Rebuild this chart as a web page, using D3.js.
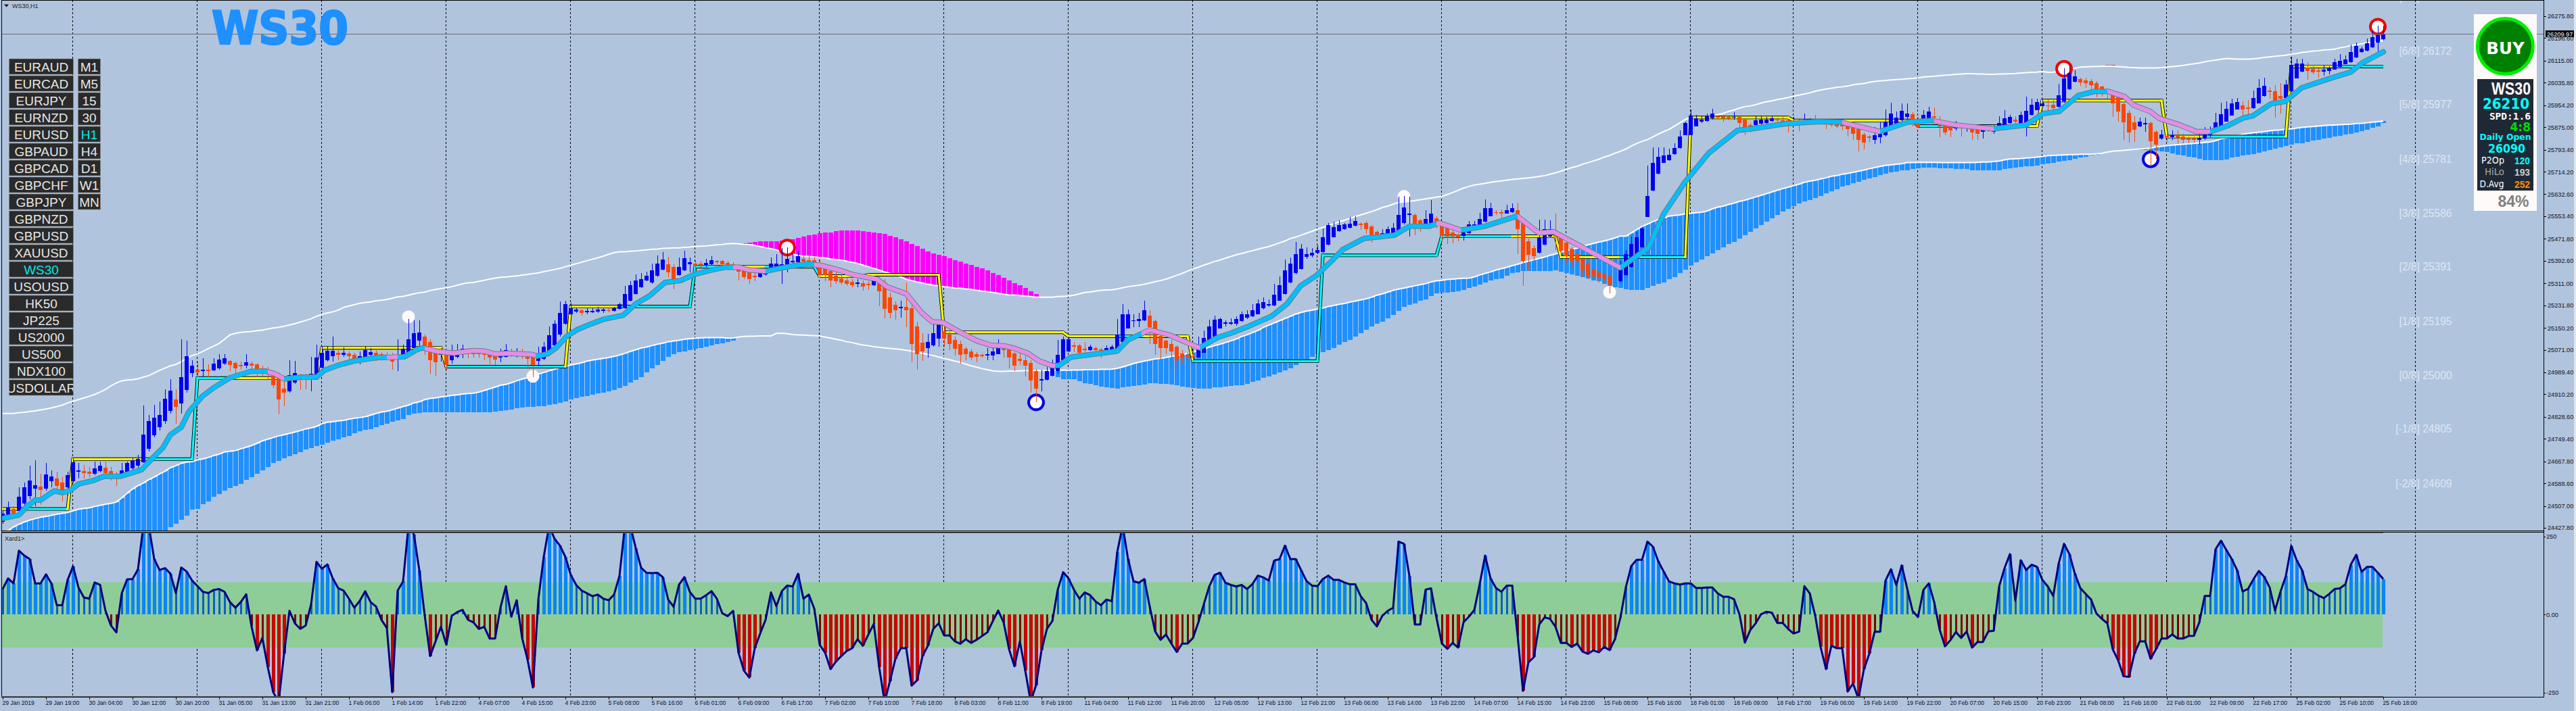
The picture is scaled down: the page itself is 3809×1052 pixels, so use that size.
<!DOCTYPE html>
<html><head><meta charset="utf-8"><title>WS30 H1</title>
<script src="https://cdn.jsdelivr.net/npm/d3@7/dist/d3.min.js"></script>
<style>html,body{margin:0;padding:0;background:#b0c4de;overflow:hidden}svg{display:block}</style>
</head><body><svg id="c" width="3809" height="1052"></svg>
<script>
const opens=[24449,24470,24495,24490,24515,24543,24570,24577,24570,24596,
24605,24592,24574,24596,24632,24633,24630,24623,24633,24645,
24633,24621,24617,24623,24642,24652,24665,24713,24763,24791,
24813,24851,24891,24876,24925,24987,25000,24994,24998,24997,
25005,25022,25030,25023,25017,25013,25020,25018,25003,24998,
24978,24969,24931,24922,24953,24972,24970,24968,24980,25007,
25033,25049,25059,25053,25058,25053,25040,25044,25053,25061,
25055,25053,25050,25046,25050,25059,25078,25105,25119,25100,
25059,25053,25053,25034,25046,25055,25065,25062,25058,25056,
25054,25050,25043,25046,25062,25056,25060,25047,25046,25030,
25038,25054,25088,25125,25164,25198,25208,25214,25208,25208,
25208,25212,25215,25212,25219,25222,25247,25273,25298,25322,
25314,25338,25361,25381,25369,25341,25357,25379,25383,25382,
25377,25381,25391,25391,25385,25379,25369,25359,25351,25339,
25334,25343,25357,25360,25370,25373,25386,25387,25399,25395,
25395,25375,25365,25355,25338,25329,25322,25317,25310,25312,
25308,25305,25318,25300,25261,25233,25222,25225,25220,25156,
25096,25078,25088,25111,25138,25126,25107,25092,25074,25066,
25056,25052,25050,25050,25056,25074,25073,25058,25037,25034,
25024,24993,24961,24962,24977,24995,25032,25064,25088,25086,
25074,25071,25078,25073,25069,25071,25074,25100,25149,25174,
25174,25178,25195,25176,25122,25103,25092,25081,25058,25052,
25048,25044,25061,25099,25119,25149,25165,25166,25166,25174,
25186,25193,25200,25220,25230,25231,25249,25273,25315,25347,
25363,25406,25412,25422,25424,25450,25478,25499,25507,25512,
25518,25526,25528,25517,25497,25485,25487,25493,25499,25529,
25558,25558,25538,25524,25529,25547,25525,25517,25495,25487,
25482,25491,25509,25512,25533,25554,25568,25568,25564,25568,
25576,25533,25463,25438,25422,25450,25481,25501,25477,25458,
25436,25417,25399,25379,25360,25351,25343,25336,25320,25318,
25341,25371,25412,25442,25551,25647,25707,25747,25757,25777,
25799,25846,25846,25879,25894,25898,25906,25915,25914,25911,
25910,25913,25903,25883,25883,25887,25889,25898,25903,25901,
25899,25893,25899,25895,25897,25898,25894,25889,25887,25887,
25885,25881,25877,25867,25849,25841,25830,25838,25846,25875,
25879,25899,25911,25921,25899,25895,25895,25915,25902,25891,
25879,25871,25879,25871,25872,25867,25859,25871,25859,25875,
25879,25891,25903,25879,25885,25920,25937,25950,25954,25956,
25948,25968,26011,26039,26048,26044,26041,26033,26022,26013,
25993,25983,25959,25927,25893,25878,25886,25890,25859,25833,
25843,25838,25845,25842,25834,25833,25830,25833,25845,25863,
25875,25895,25918,25940,25954,25946,25944,25962,25988,26007,
26005,25988,25980,26005,26051,26076,26090,26085,26080,26076,
26078,26084,26092,26103,26110,26127,26146,26152,26163,26180,
26193];
const closes=[24480,24502,24480,24540,24574,24599,24582,24564,24621,24614,
24580,24561,24617,24665,24635,24626,24622,24642,24652,24625,
24617,24617,24636,24661,24673,24677,24764,24814,24826,24835,
24893,24924,24864,24972,25049,25013,24990,25000,24994,25022,
25035,25040,25015,25003,25012,25025,25013,24998,24995,24988,
24944,24891,24916,24980,24987,24968,24966,24984,25043,25059,
25068,25068,25053,25060,25048,25037,25048,25071,25063,25050,
25048,25045,25028,25053,25075,25109,25130,25134,25084,25034,
25025,25065,25015,25055,25071,25075,25059,25054,25054,25052,
25043,25035,25050,25070,25054,25062,25054,25038,25016,25040,
25082,25123,25164,25203,25235,25222,25216,25203,25211,25211,
25217,25216,25212,25222,25237,25273,25303,25322,25326,25338,
25359,25383,25398,25351,25321,25371,25403,25386,25373,25377,
25385,25395,25388,25379,25375,25375,25354,25334,25325,25334,
25351,25357,25382,25382,25381,25399,25391,25409,25390,25390,
25387,25341,25341,25322,25320,25314,25308,25305,25314,25300,
25305,25322,25283,25219,25203,25213,25225,25213,25093,25054,
25066,25100,25131,25162,25111,25091,25074,25052,25056,25043,
25045,25050,25054,25066,25078,25072,25042,25013,25030,25013,
24959,24930,24964,24995,25009,25052,25110,25109,25082,25061,
25072,25081,25069,25066,25076,25081,25127,25200,25200,25178,
25183,25213,25154,25093,25078,25078,25064,25034,25042,25046,
25042,25073,25113,25156,25180,25182,25169,25171,25183,25198,
25200,25213,25239,25244,25237,25269,25303,25359,25383,25417,
25436,25416,25422,25432,25477,25521,25515,25521,25523,25527,
25536,25524,25508,25482,25482,25493,25507,25512,25558,25586,
25562,25524,25524,25544,25562,25529,25482,25481,25479,25477,
25495,25524,25524,25544,25582,25582,25565,25562,25576,25582,
25507,25391,25414,25409,25477,25507,25507,25481,25428,25410,
25393,25393,25359,25338,25336,25332,25328,25306,25317,25363,
25416,25454,25477,25509,25627,25745,25769,25773,25775,25799,
25842,25889,25917,25907,25903,25915,25925,25910,25907,25909,
25913,25889,25865,25879,25899,25903,25903,25906,25899,25895,
25895,25897,25894,25901,25902,25895,25890,25885,25884,25879,
25879,25867,25852,25828,25820,25838,25845,25851,25894,25924,
25910,25933,25924,25897,25875,25920,25932,25910,25879,25856,
25864,25879,25871,25875,25857,25850,25871,25867,25879,25889,
25907,25913,25894,25920,25933,25956,25966,25960,25951,25944,
25990,26051,26071,26058,26037,26035,26027,26009,26007,26009,
25962,25932,25893,25856,25866,25895,25890,25825,25812,25849,
25840,25846,25837,25828,25829,25830,25837,25849,25853,25893,
25922,25942,25960,25966,25940,25942,25980,26017,26024,26004,
25968,25979,26029,26100,26105,26105,26078,26073,26076,26082,
26087,26110,26114,26120,26146,26168,26159,26178,26200,26208,
26210];
const highs=[24492,24524,24505,24574,24592,24652,24673,24624,24661,24636,
24630,24611,24630,24679,24661,24655,24648,24667,24667,24667,
24648,24630,24661,24667,24679,24692,24869,24835,24872,24885,
24928,24966,24928,25109,25105,25034,25028,25040,25018,25040,
25055,25055,25034,25028,25028,25055,25028,25022,25013,25009,
24997,24990,24972,25034,25030,24984,24984,25046,25090,25084,
25084,25119,25071,25080,25065,25059,25065,25084,25078,25071,
25063,25063,25059,25109,25090,25183,25177,25177,25127,25109,
25078,25078,25059,25090,25092,25090,25078,25070,25062,25062,
25062,25058,25074,25092,25074,25077,25074,25062,25054,25082,
25099,25156,25178,25245,25249,25241,25222,25217,25222,25221,
25227,25222,25222,25225,25241,25302,25318,25344,25347,25352,
25383,25412,25424,25406,25379,25404,25428,25404,25395,25391,
25399,25409,25395,25395,25391,25387,25379,25371,25363,25349,
25359,25367,25404,25417,25438,25442,25416,25428,25412,25408,
25406,25395,25383,25367,25352,25343,25330,25326,25326,25322,
25318,25333,25334,25326,25278,25245,25249,25314,25237,25172,
25131,25129,25164,25172,25156,25135,25119,25105,25082,25074,
25062,25058,25078,25078,25109,25078,25078,25062,25057,25050,
25034,25001,25000,25009,25035,25107,25119,25119,25100,25091,
25099,25089,25081,25078,25087,25089,25182,25237,25217,25198,
25204,25249,25213,25180,25123,25107,25107,25087,25070,25062,
25074,25119,25141,25180,25195,25188,25178,25185,25192,25210,
25213,25235,25253,25260,25253,25308,25336,25397,25405,25460,
25452,25440,25438,25448,25509,25529,25534,25538,25529,25550,
25554,25531,25536,25521,25503,25507,25517,25528,25623,25627,
25623,25562,25544,25574,25611,25552,25534,25525,25505,25493,
25505,25536,25536,25566,25615,25603,25574,25578,25594,25599,
25603,25542,25473,25448,25542,25542,25538,25562,25485,25464,
25444,25428,25404,25387,25367,25359,25349,25343,25326,25391,
25432,25481,25497,25513,25737,25802,25802,25802,25798,25818,
25863,25895,25940,25920,25915,25924,25942,25920,25920,25915,
25929,25915,25907,25891,25915,25918,25911,25915,25910,25911,
25903,25911,25903,25924,25907,25920,25899,25895,25895,25895,
25899,25885,25883,25872,25855,25846,25875,25895,25940,25964,
25932,25962,25960,25928,25911,25936,25948,25946,25915,25899,
25887,25897,25891,25883,25879,25879,25879,25879,25883,25915,
25936,25920,25915,25932,25985,25977,25978,25976,25975,25972,
26032,26089,26102,26080,26054,26054,26048,26041,26024,26015,
26001,25989,25964,25936,25915,25910,25910,25895,25863,25865,
25851,25863,25863,25851,25842,25841,25851,25875,25877,25926,
25964,25968,25978,25981,25968,25974,26007,26048,26054,26019,
26027,26033,26046,26129,26121,26121,26111,26094,26089,26097,
26094,26123,26139,26135,26173,26181,26165,26196,26224,26241,
26241];
const lows=[24443,24468,24474,24487,24505,24530,24505,24511,24561,24574,
24549,24524,24543,24592,24605,24605,24611,24617,24627,24611,
24599,24580,24607,24617,24636,24642,24661,24704,24754,24779,
24804,24841,24804,24841,24916,24972,24972,24972,24972,24993,
25000,25015,24993,24984,25000,25003,24990,24972,24978,24966,
24934,24839,24866,24916,24947,24926,24928,24920,24972,25003,
25028,25028,25034,25045,25034,25022,25018,25040,25046,25030,
25038,25034,25000,24993,25040,25046,25065,25084,25053,24984,
24978,25028,25000,25022,25040,25040,25040,25043,25042,25034,
25019,25017,25026,25042,25046,25042,25038,25001,24973,25011,
25034,25050,25082,25119,25160,25196,25204,25195,25200,25203,
25203,25203,25206,25208,25217,25219,25245,25271,25294,25320,
25310,25334,25357,25334,25290,25338,25355,25351,25351,25367,
25371,25377,25379,25367,25363,25363,25322,25326,25308,25318,
25330,25338,25351,25359,25310,25351,25383,25383,25363,25375,
25375,25330,25318,25298,25310,25306,25302,25296,25298,25284,
25286,25302,25229,25184,25184,25180,25188,25152,25026,24999,
25030,25043,25082,25082,25082,25070,25050,25021,25034,25034,
25026,25042,25034,25034,25054,25042,25005,24995,25017,24974,
24917,24881,24920,24959,24974,24985,25030,25062,25062,25054,
25058,25068,25058,25040,25065,25066,25073,25099,25148,25152,
25152,25176,25091,25052,25035,25056,25026,25001,25024,25030,
25029,25042,25060,25095,25117,25148,25156,25160,25157,25172,
25183,25190,25198,25217,25225,25229,25247,25271,25312,25344,
25360,25399,25404,25416,25422,25448,25477,25497,25505,25509,
25516,25505,25489,25458,25473,25482,25485,25489,25497,25525,
25481,25485,25497,25521,25525,25509,25460,25452,25455,25464,
25466,25489,25505,25509,25531,25552,25558,25546,25562,25566,
25416,25302,25355,25395,25420,25448,25478,25432,25408,25383,
25367,25375,25334,25326,25326,25314,25314,25276,25310,25314,
25338,25367,25408,25440,25550,25643,25704,25745,25753,25775,
25798,25845,25845,25877,25891,25895,25903,25903,25895,25899,
25903,25863,25846,25856,25881,25883,25885,25895,25879,25879,
25855,25889,25861,25889,25895,25887,25887,25867,25875,25871,
25863,25842,25830,25788,25796,25822,25814,25816,25842,25871,
25875,25895,25897,25879,25871,25894,25891,25899,25838,25846,
25838,25863,25842,25859,25830,25830,25834,25859,25850,25872,
25875,25887,25875,25877,25842,25918,25936,25948,25936,25932,
25946,25964,26009,26037,26024,26017,26007,25983,25985,25977,
25913,25895,25830,25820,25822,25875,25859,25733,25761,25830,
25822,25828,25814,25818,25818,25820,25812,25830,25840,25861,
25873,25894,25916,25938,25913,25916,25942,25960,25986,25977,
25910,25924,25979,26002,26050,26074,26046,26066,26054,26062,
26066,26082,26089,26102,26108,26125,26145,26150,26162,26149,
26188];
const lowerBand=[24412,24418,24431,24441,24449,24456,24461,24466,24469,24473,
24477,24480,24483,24489,24495,24498,24500,24505,24509,24513,
24516,24521,24536,24553,24568,24580,24590,24602,24611,24623,
24632,24645,24652,24661,24665,24667,24673,24677,24682,24689,
24694,24702,24704,24707,24713,24719,24725,24733,24742,24748,
24754,24760,24764,24769,24774,24779,24785,24789,24794,24804,
24809,24811,24814,24816,24820,24824,24826,24829,24835,24841,
24846,24849,24854,24860,24866,24871,24879,24883,24891,24895,
24897,24901,24903,24906,24908,24911,24913,24914,24918,24924,
24930,24936,24943,24946,24952,24959,24965,24971,24977,24983,
24989,24995,25001,25006,25011,25016,25020,25024,25030,25034,
25037,25040,25043,25047,25052,25058,25065,25071,25077,25081,
25086,25091,25095,25100,25103,25105,25109,25111,25113,25114,
25115,25115,25115,25115,25113,25114,25117,25119,25120,25120,
25121,25121,25121,25130,25131,25129,25126,25125,25124,25123,
25122,25121,25117,25113,25109,25105,25100,25097,25092,25088,
25086,25082,25080,25078,25076,25074,25072,25069,25066,25062,
25058,25054,25050,25045,25040,25035,25030,25026,25019,25013,
25008,25003,24999,24995,24993,24993,24994,24994,24995,24996,
24996,24996,24996,24996,24996,24997,24997,24997,24998,24998,
24999,24999,24999,25000,25000,25001,25004,25009,25015,25021,
25026,25030,25034,25038,25040,25043,25047,25050,25053,25058,
25062,25069,25074,25080,25086,25091,25097,25103,25110,25119,
25125,25133,25141,25152,25160,25168,25176,25184,25192,25200,
25206,25211,25214,25218,25222,25227,25231,25235,25238,25243,
25247,25251,25255,25261,25268,25273,25279,25286,25290,25294,
25298,25302,25306,25310,25316,25320,25322,25325,25326,25328,
25329,25330,25334,25341,25347,25352,25359,25364,25369,25375,
25380,25386,25391,25396,25401,25406,25412,25417,25424,25429,
25434,25438,25444,25450,25455,25460,25464,25469,25475,25482,
25481,25493,25505,25517,25525,25534,25542,25547,25554,25556,
25558,25562,25564,25566,25568,25572,25580,25586,25590,25596,
25601,25607,25611,25617,25623,25629,25635,25641,25647,25653,
25658,25664,25669,25676,25680,25683,25688,25692,25698,25700,
25705,25708,25712,25716,25720,25725,25729,25733,25737,25739,
25741,25743,25747,25747,25748,25748,25748,25748,25747,25747,
25747,25747,25747,25747,25747,25748,25749,25749,25751,25753,
25757,25760,25761,25762,25764,25765,25767,25769,25772,25773,
25774,25775,25776,25776,25777,25777,25777,25779,25781,25785,
25788,25790,25791,25793,25795,25796,25798,25799,25804,25806,
25808,25810,25812,25813,25815,25816,25818,25820,25822,25826,
25833,25836,25840,25844,25849,25852,25855,25857,25859,25862,
25864,25865,25868,25869,25872,25874,25876,25877,25879,25881,
25882,25883,25884,25885,25886,25888,25889,25891,25893,25895,
25897];
const upperBand=[24841,24841,24841,24844,24845,24848,24850,24854,24857,24861,
24866,24871,24879,24885,24891,24897,24903,24910,24918,24928,
24941,24951,24959,24962,24963,24966,24972,24978,24987,24997,
25005,25013,25018,25028,25040,25050,25056,25065,25075,25084,
25094,25109,25125,25130,25134,25136,25137,25140,25142,25146,
25150,25152,25156,25161,25165,25171,25177,25183,25192,25199,
25204,25208,25214,25224,25229,25234,25239,25242,25244,25248,
25250,25253,25257,25262,25264,25268,25273,25277,25279,25285,
25289,25292,25295,25299,25304,25309,25313,25314,25318,25322,
25326,25330,25333,25334,25336,25338,25341,25343,25346,25349,
25353,25357,25361,25365,25371,25377,25382,25387,25393,25398,
25403,25409,25416,25422,25425,25425,25427,25428,25430,25432,
25434,25435,25437,25438,25439,25439,25441,25442,25444,25445,
25446,25448,25450,25451,25454,25455,25454,25452,25451,25448,
25444,25440,25436,25432,25425,25420,25416,25412,25409,25408,
25406,25404,25403,25399,25397,25395,25391,25387,25383,25377,
25371,25365,25359,25352,25347,25341,25334,25326,25321,25316,
25312,25308,25304,25302,25299,25297,25294,25293,25291,25289,
25286,25283,25281,25278,25275,25272,25269,25269,25267,25265,
25263,25261,25261,25261,25261,25263,25264,25265,25268,25273,
25278,25280,25283,25286,25287,25288,25291,25295,25299,25302,
25304,25308,25312,25317,25321,25326,25333,25340,25347,25355,
25363,25369,25377,25383,25390,25395,25402,25408,25414,25419,
25424,25429,25434,25439,25444,25450,25457,25464,25473,25478,
25485,25492,25499,25507,25513,25520,25526,25533,25539,25546,
25552,25558,25564,25570,25577,25585,25590,25597,25603,25605,
25607,25610,25613,25616,25619,25622,25625,25632,25639,25647,
25655,25661,25666,25669,25672,25676,25679,25681,25684,25686,
25688,25690,25692,25694,25697,25700,25705,25710,25716,25723,
25729,25734,25741,25747,25753,25759,25767,25773,25781,25788,
25796,25807,25816,25824,25830,25840,25850,25859,25867,25879,
25891,25903,25910,25910,25911,25913,25916,25920,25925,25932,
25937,25944,25949,25952,25956,25962,25967,25970,25975,25978,
25982,25987,25991,25995,25999,26005,26009,26013,26016,26019,
26021,26024,26028,26031,26033,26037,26040,26042,26044,26046,
26047,26048,26050,26051,26053,26056,26058,26059,26061,26063,
26064,26066,26067,26068,26068,26067,26067,26066,26066,26067,
26067,26068,26069,26071,26072,26073,26074,26076,26073,26074,
26076,26080,26085,26088,26092,26093,26094,26094,26095,26096,
26095,26094,26093,26091,26090,26089,26089,26089,26089,26090,
26092,26094,26096,26098,26101,26104,26107,26111,26115,26117,
26120,26123,26122,26121,26121,26121,26122,26124,26127,26129,
26131,26133,26135,26139,26141,26145,26147,26150,26151,26154,
26155,26157,26162,26165,26170,26173,26176,26180,26182,26184,
26188];
// blue cloud, lower edge, three runs; start bars below
const cloudStartA=0;
const cloudLowA=[24380,24380,24380,24380,24380,24380,24380,24380,24380,24380,
24380,24380,24380,24380,24380,24380,24380,24380,24380,24380,
24380,24380,24380,24380,24380,24380,24380,24380,24380,24380,
24419,24431,24443,24456,24472,24493,24495,24512,24524,24539,
24549,24561,24571,24580,24586,24601,24611,24623,24636,24648,
24661,24670,24679,24686,24694,24702,24711,24717,24723,24729,
24736,24742,24748,24754,24760,24769,24776,24781,24785,24791,
24798,24804,24810,24816,24822,24835,24841,24844,24845,24845,
24845,24845,24845,24845,24845,24845,24845,24845,24845,24845,
24845,24847,24851,24853,24856,24859,24863,24865,24865,24866,
24868,24871,24875,24879,24885,24891,24897,24901,24905,24909,
24913,24917,24922,24926,24932,24940,24952,24962,24973,24989,
25003,25017,25030,25046,25054,25062,25066,25070,25074,25078,
25082,25087,25091,25095,25100,25105];
const cloudStartB=195;
const cloudLowB=[24973,24966,24965,24964,24957,24951,24948,24944,24939,24936,
24932,24931,24935,24938,24940,24942,24946,24951,24951,24948,
24948,24946,24942,24939,24936,24934,24931,24931,24931,24935,
24936,24938,24940,24943,24944,24948,24954,24961,24969,24974,
24981,24989,24997,25005,25016,25026,25035,25046,
25056,25062,25070,25078,25089,25099,25107,25119,25131,25143,
25156,25164,25172,25184,25196,25211,25225,25233,25239,25247,
25253,25265,25275,25278,25278,25279,25282,25287,25294,25300,
25306,25314,25322,25326,25329,25338,25347,25351,25355,25355,
25355,25355,25355,25356,25359,25352,25347,25343,25338,25333,
25328,25322,25318,25310,25302,25298,25294,25290,25288,25288,
25288,25294,25302,25308,25314,25325,25334,25347,25360,25375,
25387,25398,25409,25420,25432,25440,25452,25460,25473,25485,
25497,25509,25521,25534,25546,25558,25570,25580,25590,25599,
25607,25613,25619,25627,25635,25643,25651,25660,25665,25672,
25677,25684,25690,25696,25702,25707,25712,25715,25718,25720,
25725,25727,25729,25729,25729,25726,25726,25726,25725,25725,
25723,25720,25720,25720,25720,25720,25720,25725,25726,25729,
25731,25733,25734,25737,25741,25744,25747,25751,25754,25757,
25761,25765,25769,25773,25777];
const cloudStartC=394;
const cloudLowC=[25794,25794,25793,25791,25790,25788,25786,25780,25776,25773,
25769,25765,25760,25757,25755,25755,25755,25759,25765,25768,
25772,25775,25778,25783,25787,25793,25798,25802,25808,25812,
25816,25818,25822,25826,25830,25834,25837,25841,25844,25848,
25851,25856,25861,25866,25872,25879,25889];
// magenta cloud, upper edge
const magentaStart=137;
const magentaTop=[25456,25458,25460,25462,25464,25464,25464,25466,25469,25471,
25476,25481,25484,25487,25491,25494,25495,25499,25502,25503,
25502,25501,25499,25498,25495,25493,25490,25483,25477,25469,
25462,25454,25446,25436,25427,25419,25414,25409,25402,25395,
25389,25383,25377,25371,25364,25357,25349,25340,25332,25322,
25312,25305,25295,25283,25273];
const magentaTipBars=[389,390,391];
const magentaTipTop=[26099,26099,26096];
// thick moving average vertices
const maBars=[0,3,4.5,6,7,9.5,11,12.3,14,16.8,18.7,21.8,25.7,28,29.6,31,33,34.4,36.9,39,41.9,45.8,48.6,50.3,52,55.3,58,59.5,62,64.8,69.3,72,74.3,76.5,77.6,80.4,83.2,87,
89,91,93.4,97.8,98.8,100.7,102.3,104.2,106.1,108.7,111.2,114.7,117,119.5,122.4,125.3,127.8,131,133.6,136.1,138,141.2,143.1,145.7,148.9,151.4,154.6,157.2,161.6,163.5,167,169.9,171.8,173.7,176.9,180.1,182.7,185.2,
187,189.5,191.6,194.1,195.3,197.4,198.7,202,206,208,212,215.8,219.1,221.2,224.5,227,230.3,234.5,237.4,239.9,242.8,245.8,
247.6,251.6,257.2,260,263.6,265.5,269.5,273.9,279.9,283.9,286.7,299,304.2,307,310.9,315.3,320.6,324,329.3,335.5,339.9,346.9,352.1,356.5,360.9,367.9,374,
377.1,380.1,383.6,386.6,389.2,392.2,393.9,396.9,398.6,402.1,405.5,408.1,411.1,414.2,415.9,419.3,421.9,424.9,430.1,434,436.1,440];
const maValues=[24462,24474,24505,24528,24528,24561,24555,24561,24586,24599,24614,24614,24638,24686,24717,24764,24791,24847,24903,24934,24969,24993,24994,24984,24966,24972,24972,24997,25015,25030,25043,25044,25046,25071,25078,25065,25059,25068,
25066,25056,25058,25054,25048,25056,25078,25119,25143,25164,25182,25196,25237,25265,25314,25321,25343,25359,25369,25369,25359,25355,25363,25373,25381,25375,25359,25342,25326,25298,25273,25204,25172,25170,25135,25103,25087,25085,
25076,25058,25030,25013,25015,25044,25048,25056,25066,25107,25143,25123,25095,25078,25115,25131,25156,25192,25237,25302,25339,25395,
25432,25473,25485,25517,25517,25529,25503,25517,25554,25493,25497,25367,25440,25562,25676,25781,25863,25871,25887,25895,25893,25859,25893,25899,25883,25869,25883,
25924,25932,25989,26004,26004,25985,25954,25932,25907,25885,25859,25859,25879,25909,25916,25960,25968,26017,26051,26074,26107,26147];
const maFallStart=[49,71,78,135,150,210.5,265,280,340,357,389];
const maFallEnd=[52,73,98.5,141,194.5,221.3,269.5,299,347,368,408];
// step line vertices and the colour of the segment leaving each vertex
const stepBars=[0,3,12,13,26,35,36,42,58,59,81,82,104,105,114,127,128,135,141,150,151,153,159,160,173,174,196,197,206,211,219,220,243,244,265,266,279,287,288,299,311,312,330,331,352,353,354,368,376,377,399,400,407,422,423,431,440];
const stepValues=[24496,24496,24496,24676,24676,24676,24969,24969,24969,25078,25078,25010,25010,25227,25227,25227,25371,25371,25371,25371,25337,25337,25337,25342,25342,25134,25134,25120,25120,25120,25120,25030,25030,25412,25412,25481,25481,25481,25406,25406,25406,25910,25910,25899,25899,25899,25879,25879,25879,25971,25971,25841,25841,25841,26094,26094,26094];
const stepKinds="ycyycccyyyycyycccyccyyyyyyyycyyccccc".split("");
const stepKindsRest="yyycyyyycccyyyyycyyc".split("");
// oscillator
const oscValues=[82,116,100,205,189,178,100,100,129,100,30,30,111,155,87,55,51,103,95,12,
-35,-57,68,113,114,145,285,285,178,143,149,131,69,151,138,109,91,73,69,79,
82,73,40,22,40,65,-39,-115,-75,-169,-249,-280,-126,12,-28,-46,-35,33,169,147,
161,116,85,77,51,22,44,75,40,26,-17,-43,-249,77,106,285,257,142,-3,-133,
-86,-39,-97,-4,8,15,-17,-25,-46,-39,-77,-77,22,91,-7,46,-75,-144,-234,48,
185,285,243,221,185,127,95,77,68,59,64,51,46,64,124,285,285,214,150,134,
133,134,120,48,25,96,120,73,51,51,62,75,51,4,-5,12,-122,-180,-202,-108,
-61,-17,71,27,75,93,90,131,51,64,19,-97,-122,-175,-151,-133,-117,-108,-79,-100,
-64,-30,-169,-280,-213,-142,-108,-108,-228,-211,-134,-100,-46,-28,-67,-67,-86,-94,-79,-91,
-81,-69,-57,-21,13,-25,-111,-166,-86,-180,-280,-226,-115,-46,-21,80,136,116,80,51,
71,62,42,30,48,43,200,285,178,107,102,114,26,-54,-81,-64,-93,-120,-93,-93,
-75,-25,33,90,127,134,102,95,90,95,82,98,125,119,109,173,178,221,178,178,
142,107,93,91,114,125,111,111,103,97,97,59,37,-17,-38,-4,12,22,234,227,
124,-32,-32,80,84,-10,-93,-110,-91,-106,-25,-7,15,98,189,116,85,73,93,93,
-68,-245,-153,-137,-32,-9,-14,-39,-91,-91,-104,-93,-119,-126,-115,-121,-104,-114,-79,-10,
87,155,176,176,234,218,171,138,106,100,96,100,100,85,85,87,87,68,57,57,
49,1,-90,-50,-28,1,9,6,-27,-27,-46,-61,-55,91,68,-3,-104,-175,-100,-108,
-108,-247,-221,-270,-176,-126,-55,-55,109,145,95,158,84,12,-8,79,100,40,-48,-102,
-82,-56,-75,-54,-106,-88,-88,-54,-52,90,149,194,44,174,143,160,153,111,90,60,
163,227,194,131,85,66,48,3,-14,-28,-111,-147,-198,-200,-126,-86,-86,-142,-111,-77,
-77,-64,-77,-77,-69,-68,-25,60,60,209,237,207,178,142,74,82,113,140,121,87,
13,73,124,220,174,142,82,73,61,53,66,82,84,97,160,192,137,153,153,134,
114];
const oscBandHigh=104, oscBandLow=-106, oscStrong=100;
const oscTicks=[250,0,-250];
const priceTicks=[26275.8,26196.6,26115,26035.8,25954.2,25875,25793.4,25714.2,25632.6,25553.4,25471.8,25392.6,25311,25231.8,25150.2,25071,24989.4,24910.2,24828.6,24749.4,24667.8,24588.6,24507,24427.8];
const dayBars=[13,36,59,82,105,128,151,174,197,220,243,266,289,312,331,354,377,400,423,446];
const timeBars=d3.range(0,441,8);
const timeLabels=["29 Jan 2019","29 Jan 19:00","30 Jan 04:00","30 Jan 12:00","30 Jan 20:00","31 Jan 05:00","31 Jan 13:00","31 Jan 21:00","1 Feb 06:00","1 Feb 14:00","1 Feb 22:00","4 Feb 07:00","4 Feb 15:00","4 Feb 23:00","5 Feb 08:00","5 Feb 16:00","6 Feb 01:00","6 Feb 09:00","6 Feb 17:00","7 Feb 02:00","7 Feb 10:00","7 Feb 18:00","8 Feb 03:00","8 Feb 11:00","8 Feb 19:00","11 Feb 04:00","11 Feb 12:00","11 Feb 20:00","12 Feb 05:00","12 Feb 13:00","12 Feb 21:00","13 Feb 06:00","13 Feb 14:00","13 Feb 22:00","14 Feb 07:00","14 Feb 15:00","14 Feb 23:00","15 Feb 08:00","15 Feb 16:00","18 Feb 01:00","18 Feb 09:00","18 Feb 17:00","19 Feb 06:00","19 Feb 14:00","19 Feb 22:00","20 Feb 07:00","20 Feb 15:00","20 Feb 23:00","21 Feb 08:00","21 Feb 16:00","22 Feb 01:00","22 Feb 09:00","22 Feb 17:00","25 Feb 02:00","25 Feb 10:00","25 Feb 18:00"];
const fibNames=["[7/8]","[6/8]","[5/8]","[4/8]","[3/8]","[2/8]","[1/8]","[0/8]","[-1/8]","[-2/8]"];
const fibLevels=[26367,26172,25977,25781,25586,25391,25195,25000,24805,24609];
const symbols=["EURAUD","EURCAD","EURJPY","EURNZD","EURUSD","GBPAUD","GBPCAD","GBPCHF","GBPJPY","GBPNZD","GBPUSD","XAUUSD","WS30","USOUSD","HK50","JP225","US2000","US500","NDX100","USDOLLAR"];
const periods=["M1","M5","15","30","H1","H4","D1","W1","MN"];
const dotBars=[75,98,259,297];
const dotPrices=[25190,24975,25625,25279];
const ringBars=[145,381,439,191,397];
const ringPrices=[25440,26086,26238,24881,25759];
const ringColors=["#f00000","#f00000","#f00000","#0000e0","#0000e0"];
const lastPrice=26209.97;

const svg=d3.select("#c");
const W=3809,H=1052,LEFT=3,RIGHT=3762,MAINB=785,SUBT=788,SUBB=1030;
const x=d3.scaleLinear().domain([0,441]).range([4,3532]);
const y=d3.scaleLinear().domain([24418,26334.4]).range([MAINB,0]);
const yo=d3.scaleLinear().domain([-250,250]).range([1024.6,794]);
const SANS="'Liberation Sans',Arial,sans-serif", DJ="'DejaVu Sans',sans-serif";
const segKinds=stepKinds.concat(stepKindsRest);

svg.append("rect").attr("width",W).attr("height",H).attr("fill","#b0c4de");
svg.append("rect").attr("x",3806).attr("width",3).attr("height",H).attr("fill","#dfe5ee");
const defs=svg.append("defs");
defs.append("clipPath").attr("id","cm").append("rect").attr("x",LEFT).attr("y",1).attr("width",RIGHT-LEFT).attr("height",MAINB-1);
defs.append("clipPath").attr("id","cs").append("rect").attr("x",LEFT).attr("y",SUBT).attr("width",RIGHT-LEFT).attr("height",SUBB-SUBT);
const mf=defs.append("clipPath").attr("id","fall");
maFallStart.forEach((s,k)=>mf.append("rect").attr("x",x(s)).attr("y",0).attr("width",x(maFallEnd[k])-x(s)).attr("height",MAINB));
defs.append("clipPath").attr("id","btn").append("rect").attr("x",13.5).attr("y",0).attr("width",95).attr("height",800);

const main=svg.append("g").attr("clip-path","url(#cm)");
const sub=svg.append("g").attr("clip-path","url(#cs)");

// day separators
[main,sub].forEach(g=>g.selectAll("line.d").data(dayBars).join("line").attr("class","d")
 .attr("x1",d=>Math.round(x(d))-.5).attr("x2",d=>Math.round(x(d))-.5).attr("y1",0).attr("y2",H)
 .attr("stroke","#000").attr("stroke-width",1).attr("stroke-dasharray","3 3"));

// fib labels
svg.append("g").selectAll("text").data(fibLevels).join("text")
 .attr("x",3625.5).attr("y",d=>y(d)+14).attr("text-anchor","end").attr("fill","#dfe7f1")
 .attr("font-family",SANS).attr("font-size",15.6).text((d,i)=>fibNames[i]+" "+d);

// clouds
const crisp="crispEdges";
function cloud(start,lows,color){
 main.append("g").attr("shape-rendering",crisp).selectAll("rect").data(lows).join("rect")
  .attr("x",(d,i)=>x(start+i)-3.5).attr("width",7)
  .attr("y",(d,i)=>y(lowerBand[start+i])).attr("height",(d,i)=>Math.max(1,y(d)-y(lowerBand[start+i])))
  .attr("fill",color);
}
cloud(cloudStartA,cloudLowA,"#1e90ff");cloud(cloudStartB,cloudLowB,"#1e90ff");cloud(cloudStartC,cloudLowC,"#1e90ff");
main.append("g").attr("shape-rendering",crisp).selectAll("rect").data(magentaTop).join("rect")
 .attr("x",(d,i)=>x(magentaStart+i)-3.5).attr("width",7)
 .attr("y",d=>y(d)).attr("height",(d,i)=>Math.max(1,y(upperBand[magentaStart+i])-y(d))).attr("fill","#ff00ff");
main.append("g").attr("shape-rendering",crisp).selectAll("rect").data(magentaTipBars).join("rect")
 .attr("x",d=>x(d)-3.5).attr("width",7).attr("y",(d,i)=>y(magentaTipTop[i])).attr("height",1.5).attr("fill","#ff00ff");

// bands
const lineI=d3.line().x((d,i)=>x(i)).y(d=>y(d));
[upperBand,lowerBand].forEach(b=>main.append("path").attr("d",lineI(b)).attr("fill","none").attr("stroke","#fff").attr("stroke-width",2));

// step line
const stepPts=stepBars.map((b,i)=>[x(b),y(stepValues[i])]);
main.append("path").attr("d",d3.line()(stepPts)).attr("fill","none").attr("stroke","#000").attr("stroke-width",5).attr("stroke-linejoin","miter");
for(let i=0;i<stepPts.length-1;i++){
 main.append("line").attr("x1",stepPts[i][0]).attr("y1",stepPts[i][1]).attr("x2",stepPts[i+1][0]).attr("y2",stepPts[i+1][1])
  .attr("stroke",segKinds[i]==="y"?"#ffff00":"#00ffff").attr("stroke-width",3.2).attr("stroke-linecap","square");
}

// signal markers
main.append("g").selectAll("circle").data(dotBars).join("circle").attr("cx",d=>x(d)).attr("cy",(d,i)=>y(dotPrices[i])).attr("r",9.5).attr("fill","#fffafa");
main.append("g").selectAll("circle").data(ringBars).join("circle").attr("cx",d=>x(d)).attr("cy",(d,i)=>y(ringPrices[i])).attr("r",11).attr("fill","#fffafa")
 .attr("stroke",(d,i)=>ringColors[i]).attr("stroke-width",4);

// candles
const bars=d3.range(closes.length);
const UP="#0000f0",DN="#ff4500";
const cg=main.append("g").attr("shape-rendering",crisp);
cg.selectAll("line").data(bars).join("line").attr("x1",i=>x(i)).attr("x2",i=>x(i)).attr("y1",i=>y(highs[i])).attr("y2",i=>y(lows[i]))
 .attr("stroke",i=>closes[i]>=opens[i]?UP:DN).attr("stroke-width",1);
cg.selectAll("rect").data(bars).join("rect").attr("x",i=>x(i)-3).attr("width",6)
 .attr("y",i=>y(Math.max(opens[i],closes[i]))).attr("height",i=>Math.max(1.5,Math.abs(y(opens[i])-y(closes[i]))))
 .attr("fill",i=>closes[i]>=opens[i]?UP:DN);

// moving average
const maLine=d3.line().x((d,i)=>x(maBars[i])).y(d=>y(d));
const maD=maLine(maValues);
main.append("path").attr("d",maD).attr("fill","none").attr("stroke","#777").attr("stroke-width",8).attr("stroke-linecap","round").attr("stroke-linejoin","round");
main.append("path").attr("d",maD).attr("fill","none").attr("stroke","#00bfff").attr("stroke-width",6).attr("stroke-linecap","round").attr("stroke-linejoin","round");
main.append("g").attr("clip-path","url(#fall)").append("path").attr("d",maD).attr("fill","none").attr("stroke","#e68ce4").attr("stroke-width",6).attr("stroke-linejoin","round");

// price line
svg.append("line").attr("x1",LEFT).attr("x2",RIGHT).attr("y1",y(lastPrice)).attr("y2",y(lastPrice)).attr("stroke","#6e6e6e").attr("stroke-width",1).attr("shape-rendering",crisp);

// oscillator pane
sub.append("rect").attr("x",LEFT).attr("width",x(440)-1-LEFT).attr("y",yo(oscBandHigh)).attr("height",yo(oscBandLow)-yo(oscBandHigh)).attr("fill","#8fcd98");
sub.append("g").attr("shape-rendering",crisp).selectAll("rect").data(oscValues).join("rect")
 .attr("x",(d,i)=>x(i)-(Math.abs(d)>=oscStrong?2.5:1.5)).attr("width",d=>Math.abs(d)>=oscStrong?5:3)
 .attr("y",d=>d>=0?yo(d):yo(0)).attr("height",d=>Math.abs(yo(d)-yo(0)))
 .attr("fill",d=>d>=0?(d>=oscStrong?"#0a84ff":"#0a5fc8"):(d<=-oscStrong?"#cc0000":"#800000"));
sub.append("path").attr("d",d3.line().x((d,i)=>x(i)).y(d=>yo(d))(oscValues)).attr("fill","none").attr("stroke","#000080").attr("stroke-width",3).attr("stroke-linejoin","round");

// frame
const fr=svg.append("g").attr("shape-rendering",crisp);
fr.append("line").attr("x1",2).attr("x2",RIGHT).attr("y1",.5).attr("y2",.5).attr("stroke","#000");
fr.append("line").attr("x1",2.5).attr("x2",2.5).attr("y1",0).attr("y2",SUBB+1).attr("stroke","#000");
fr.append("line").attr("x1",2).attr("x2",RIGHT).attr("y1",785.5).attr("y2",785.5).attr("stroke","#000");
fr.append("line").attr("x1",2).attr("x2",RIGHT).attr("y1",787.5).attr("y2",787.5).attr("stroke","#000");
fr.append("line").attr("x1",2).attr("x2",x(440)).attr("y1",788.5).attr("y2",788.5).attr("stroke","#666");
fr.append("line").attr("x1",2).attr("x2",RIGHT).attr("y1",1031.5).attr("y2",1031.5).attr("stroke","#000");
fr.append("line").attr("x1",2).attr("x2",x(440)).attr("y1",1030.5).attr("y2",1030.5).attr("stroke","#666");
fr.append("line").attr("x1",RIGHT-.5).attr("x2",RIGHT-.5).attr("y1",0).attr("y2",1032).attr("stroke","#000");

// axes
function styleAxis(g,size,col){g.select(".domain").remove();g.selectAll("line").attr("stroke","#000").attr("shape-rendering",crisp);
 g.selectAll("text").attr("font-family",SANS).attr("font-size",size).attr("fill",col||"#111122");}
const ax=svg.append("g").attr("transform",`translate(${RIGHT},0)`).call(d3.axisRight(y).tickValues(priceTicks).tickSize(3).tickPadding(2).tickFormat(d3.format(".2f")));
styleAxis(ax,9.2);
const axo=svg.append("g").attr("transform",`translate(${RIGHT},0)`).call(d3.axisRight(yo).tickValues(oscTicks).tickSize(2).tickPadding(1).tickFormat(d=>d===0?"0.00":d));
styleAxis(axo,9.2);
const axb=svg.append("g").attr("transform",`translate(0,${SUBB+2})`).call(d3.axisBottom(x).tickValues(timeBars).tickSize(3).tickPadding(2).tickFormat((d,i)=>timeLabels[i]));
styleAxis(axb,8.6);
axb.selectAll("text").attr("text-anchor","start").attr("dx",-1);

// last price tag
svg.append("rect").attr("x",3764).attr("y",45).attr("width",42).attr("height",10).attr("fill","#000");
svg.append("text").attr("x",3766).attr("y",53.5).attr("fill","#fff").attr("font-family",SANS).attr("font-size",9.2).text(d3.format(".2f")(lastPrice));

// title bits
svg.append("path").attr("d","M6 6.5h7l-3.5 4z").attr("fill","#111");
svg.append("text").attr("x",18).attr("y",11.5).attr("fill","#222").attr("font-family",SANS).attr("font-size",9).text("WS30,H1");
svg.append("text").attr("x",7).attr("y",800).attr("fill","#222").attr("font-family",SANS).attr("font-size",9).text("Xard1>");
svg.append("text").attr("x",313).attr("y",65).attr("fill","#1e90ff").attr("font-family",DJ).attr("font-weight","bold").attr("font-size",68)
 .attr("textLength",202).attr("lengthAdjust","spacingAndGlyphs").attr("stroke","#1e90ff").attr("stroke-width",2.5).text("WS30");

// buttons
const bG=svg.append("g");
bG.selectAll("rect.s").data(symbols).join("rect").attr("class","s").attr("x",13.5).attr("y",(d,i)=>87+25*i).attr("width",95).attr("height",23).attr("fill","#2a2a2a").attr("stroke","#8d8d8d").attr("stroke-width",.6);
bG.append("g").attr("clip-path","url(#btn)").selectAll("text").data(symbols).join("text").attr("x",61).attr("y",(d,i)=>105.5+25*i).attr("text-anchor","middle")
 .attr("font-family",SANS).attr("font-size",19).attr("fill",d=>d==="WS30"?"#00e8e8":"#e6e6e6").text(d=>d);
bG.selectAll("rect.p").data(periods).join("rect").attr("class","p").attr("x",115.5).attr("y",(d,i)=>87+25*i).attr("width",33).attr("height",23).attr("fill","#2a2a2a").attr("stroke","#8d8d8d").attr("stroke-width",.6);
bG.selectAll("text.p").data(periods).join("text").attr("class","p").attr("x",132).attr("y",(d,i)=>105.5+25*i).attr("text-anchor","middle")
 .attr("font-family",SANS).attr("font-size",19).attr("fill",d=>d==="H1"?"#00e8e8":"#e6e6e6").text(d=>d);

// BUY / info panel
const P=svg.append("g");
P.append("rect").attr("x",3658).attr("y",21).attr("width",93).attr("height",291).attr("fill","#fffafa");
P.append("circle").attr("cx",3704.3).attr("cy",68.5).attr("r",41).attr("fill","#008000").attr("stroke","#00ee00").attr("stroke-width",5);
P.append("text").attr("x",3704.5).attr("y",80).attr("text-anchor","middle").attr("fill","#fff").attr("font-family",DJ).attr("font-weight","bold").attr("font-size",24.5).text("BUY");
P.append("rect").attr("x",3663).attr("y",117).attr("width",83).attr("height",165).attr("fill","#1f2935");
function T(s,xx,yy,size,col,fam,w,anchor,bold=true,len){const t=P.append("text").attr("x",xx).attr("y",yy).attr("font-size",size).attr("fill",col).attr("font-family",fam).attr("text-anchor",anchor||"end").attr("font-weight",bold?"bold":"normal").text(s);if(len)t.attr("textLength",len).attr("lengthAdjust","spacingAndGlyphs");}
T("WS30",3742,140,26,"#fff","'Liberation Sans Narrow',"+SANS,0,"end",true,58);
T("26210",3740,160.7,22,"#00ffff",DJ,0,"end",true,69);
T("SPD:1.6",3742,176.7,14.5,"#fff","'DejaVu Sans Mono',monospace");
T("4:8",3742,194,17,"#00dd00",DJ);
T("Daily Open",3742.5,207,12,"#00ffff",DJ,0,"end",true,76);
T("26090",3734,225.7,17,"#00ffff",DJ,0,"end",true,55);
T("P2Op",3669,242,14.5,"#fff",DJ,0,"start",false,34);
T("120",3741,242.5,15,"#00ffff",SANS,0,"end",true,23);
T("HiLo",3674,259,14.5,"#aaaaaa",DJ,0,"start",false,29);
T("193",3741,259.5,15,"#cfcfcf",SANS,0,"end",true,23);
T("D.Avg",3666.5,277,14.5,"#fff",DJ,0,"start",false,36);
T("252",3741,277.5,15,"#ff8c00",SANS,0,"end",true,23);
T("84%",3739.5,306,24,"#808080",SANS,0,"end",true,46);
</script></body></html>
